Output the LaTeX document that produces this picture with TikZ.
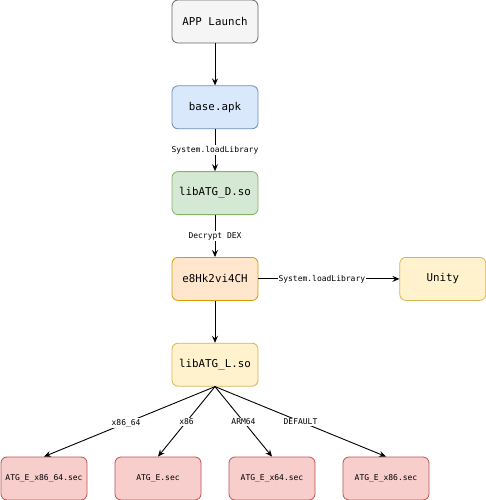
\documentclass[tikz,border=0pt]{standalone}
\usepackage{fontspec}
\setmonofont{DejaVu Sans Mono}
\usepackage{xcolor}
\usetikzlibrary{arrows.meta, positioning}

\definecolor{grayfill}{HTML}{F5F5F5}
\definecolor{graydraw}{HTML}{666666}
\definecolor{bluefill}{HTML}{DAE8FC}
\definecolor{bluedraw}{HTML}{6C8EBF}
\definecolor{greenfill}{HTML}{D5E8D4}
\definecolor{greendraw}{HTML}{82B366}
\definecolor{orangefill}{HTML}{FFE6CC}
\definecolor{orangedraw}{HTML}{D79B00}
\definecolor{yellowfill}{HTML}{FFF2CC}
\definecolor{yellowdraw}{HTML}{D6B656}
\definecolor{redfill}{HTML}{F8CECC}
\definecolor{reddraw}{HTML}{B85450}

\begin{document}
\begin{tikzpicture}[
    node distance = 42pt and 27.2pt,
    base/.style = {
        rectangle, rounded corners=6pt,
        minimum width=86pt, minimum height=43pt, text centered,
        font=\ttfamily\fontsize{10.8}{13}\selectfont, draw, line width=0.8pt
    },
    grey/.style   = {base, fill=grayfill,   draw=graydraw},
    blue/.style   = {base, fill=bluefill,   draw=bluedraw},
    green/.style  = {base, fill=greenfill,  draw=greendraw},
    orange/.style = {base, fill=orangefill, draw=orangedraw},
    yellow/.style = {base, fill=yellowfill, draw=yellowdraw},
    red/.style    = {base, fill=redfill,    draw=reddraw,
                     font=\ttfamily\fontsize{8}{10}\selectfont},
    edgelabel/.style = {font=\ttfamily\fontsize{8}{10}\selectfont, fill=white,
                        inner sep=1pt, text=black},
    arr/.style = {-{Stealth[length=7pt, width=6pt, inset=2.5pt]}, line width=0.9pt, black}
]
\useasboundingbox (0,0) rectangle (485pt,-500pt);
\node[grey] (launch) at (215pt,-21.5pt) {APP Launch};
\node[blue,   below=of launch] (apk)   {base.apk};
\node[green,  below=of apk]    (libd)  {libATG\_D.so};
\node[orange, below=of libd]   (e8hk)  {e8Hk2vi4CH};
\node[yellow, right=141pt of e8hk] (unity) {Unity};
\node[yellow, below=of e8hk] (libl) {libATG\_L.so};
\node[red, below=70pt of libl, xshift=-57pt] (secx86) {ATG\_E.sec};
\node[red, left=of secx86]  (secx8664) {ATG\_E\_x86\_64.sec};
\node[red, right=of secx86] (secarm)   {ATG\_E\_x64.sec};
\node[red, right=of secarm] (secdef)   {ATG\_E\_x86.sec};
\draw[arr] (launch) -- (apk);
\draw[arr] (apk) -- node[edgelabel] {System.loadLibrary} (libd);
\draw[arr] (libd) -- node[edgelabel] {Decrypt DEX} (e8hk);
\draw[arr] (e8hk) -- node[edgelabel, pos=0.45] {System.loadLibrary} (unity);
\draw[arr] (e8hk) -- (libl);
\draw[arr] (libl.south) -- node[edgelabel, pos=0.52] {x86\_64} (secx8664.north);
\draw[arr] (libl.south) -- node[edgelabel, pos=0.5] {x86} (secx86.north);
\draw[arr] (libl.south) -- node[edgelabel, pos=0.5] {ARM64} (secarm.north);
\draw[arr] (libl.south) -- node[edgelabel, pos=0.5] {DEFAULT} (secdef.north);
\end{tikzpicture}
\end{document}
